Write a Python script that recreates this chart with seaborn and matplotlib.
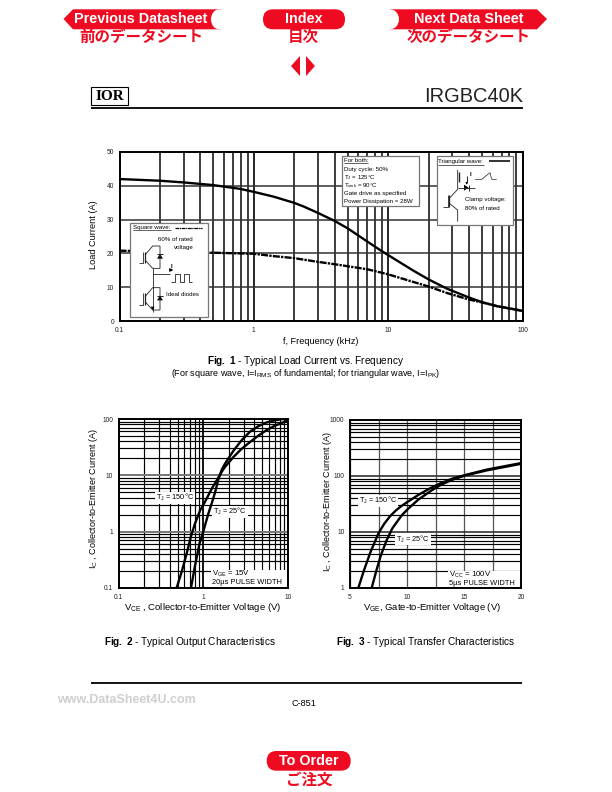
import numpy as np
import matplotlib
matplotlib.use("Agg")
import matplotlib.pyplot as plt
import seaborn as sns
from matplotlib.patches import Polygon, Ellipse, FancyBboxPatch, Rectangle

sns.set_theme(style="white")
plt.rcParams["font.family"] = ["Liberation Sans", "Noto Sans CJK JP"]
plt.rcParams["mathtext.fontset"] = "custom"
plt.rcParams["mathtext.rm"] = "Liberation Sans"
plt.rcParams["mathtext.it"] = "Liberation Sans:italic"
plt.rcParams["mathtext.bf"] = "Liberation Sans:bold"

RED = "#ee0a20"
W, H = 612, 792

# ======================================================
# DATA
# ======================================================
freq_tri = [0.1, 0.2, 0.3, 0.5, 0.79, 1, 1.4, 1.98, 2.34, 3.03, 4, 5, 7, 8.7, 10, 15.4, 20, 27.3, 39.6, 49.8, 64.5, 100]
load_tri = [42, 41.5, 41, 40.2, 39.1, 38.2, 36.8, 35, 33.9, 31.9, 29.6, 27.4, 23.5, 21, 19.5, 14.9, 12.3, 9.6, 7, 5.6, 4.4, 3]
freq_sq = [0.1, 0.2, 0.5, 1, 1.4, 2, 3, 4, 5, 7, 8.7, 10, 20, 27.3, 39.6, 49.8, 64.5, 100]
load_sq = [20.8, 20.6, 20.2, 19.9, 19.2, 18.6, 17.5, 16.8, 16.2, 15.3, 14.4, 13.8, 10.2, 8.3, 6.4, 5.5, 4.4, 3]

vce_150 = [0.485, 0.56, 0.64, 0.72, 0.8, 0.92, 1.05, 1.18, 1.3, 1.5, 1.65, 1.8, 2.26, 2.8, 3.56, 4.5, 5.6, 7, 9.6, 10]
ic_150 = [0.1, 0.2, 0.42, 0.85, 1.4, 2.4, 3.4, 4.8, 6.3, 9, 11.5, 14, 21, 29, 39, 51, 63.6, 76, 92, 94]
vce_25 = [0.716, 0.8, 0.9, 1, 1.05, 1.15, 1.26, 1.38, 1.5, 1.65, 1.8, 2.26, 2.8, 3.56, 4.5, 5.6, 7, 8.8, 10]
ic_25 = [0.1, 0.25, 0.6, 1, 1.3, 2.1, 3.2, 5, 8.2, 12.5, 16, 27, 41, 59.6, 75, 87, 95, 100, 100]

vge_150 = [5.73, 6.2, 6.8, 7.5, 8, 8.5, 9, 9.5, 10.1, 11, 12, 13, 14, 15.1, 17, 20]
icg_150 = [1, 2, 4.4, 9.5, 14, 19, 24, 29, 35, 46, 60, 75, 90, 104, 130, 170]
vge_25 = [6.9, 7.3, 7.7, 8.2, 8.7, 9.2, 9.6, 10.1, 11, 12.2, 13, 14, 15.1, 17, 20]
icg_25 = [1, 2, 3.8, 7, 11.5, 16, 20.5, 26, 38, 56, 70, 86, 102, 126, 165]

ticks_x1 = [0.1, 1, 10, 100]
labels_x1 = ["0.1", "1", "10", "100"]
ticks_y1 = [0, 10, 20, 30, 40, 50]
ticks_x2 = [0.1, 1, 10]
labels_x2 = ["0.1", "1", "10"]
ticks_y2 = [0.1, 1, 10, 100]
labels_y2 = ["0.1", "1", "10", "100"]
ticks_x3 = [5, 10, 15, 20]
grid_x3 = [7.5, 10, 12.5, 15, 17.5]
ticks_y3 = [1, 10, 100, 1000]
labels_y3 = ["1", "10", "100", "1000"]


def make_axes(left, top, right, bottom):
    return fig.add_axes([left / W, 1 - bottom / H, (right - left) / W, (bottom - top) / H])


def dress(ax, xticks, xlabels, yticks, ylabels):
    ax.set_xticks(xticks, labels=xlabels)
    ax.set_yticks(yticks, labels=ylabels)
    ax.tick_params(axis="both", which="major", length=0, pad=4, labelsize=4.8, colors="#222222")
    ax.tick_params(axis="both", which="minor", length=0, labelbottom=False, labelleft=False)
    ax.set_xlabel("")
    ax.set_ylabel("")
    for s in ax.spines.values():
        s.set_visible(True)
        s.set_color("black")
        s.set_linewidth(1.4)


fig = plt.figure(figsize=(W / 100, H / 100), dpi=100, facecolor="white")

# ======================================================
# FIG 1 - LOAD CURRENT VS FREQUENCY
# ======================================================
ax1 = make_axes(119.5, 152, 522.5, 321)
ax1.set_xscale("log")
ax1.set_xlim(0.1, 100)
ax1.set_ylim(0, 50)
sns.lineplot(x=freq_tri, y=load_tri, ax=ax1, color="black", lw=1.7, errorbar=None)
sns.lineplot(x=freq_sq, y=load_sq, ax=ax1, color="black", lw=1.7, errorbar=None,
             linestyle=(0, (3, 0.5, 1, 0.5)))
dress(ax1, ticks_x1, labels_x1, ticks_y1, [str(v) for v in ticks_y1])
ax1.xaxis.set_minor_locator(matplotlib.ticker.LogLocator(10, subs=range(2, 10)))
ax1.grid(True, which="major", axis="x", color="black", lw=1.2)
ax1.grid(True, which="major", axis="y", color="#333333", lw=1.1)
ax1.grid(True, which="minor", axis="x", color="#111111", lw=1.15)
ax1.set_axisbelow(True)

# ======================================================
# FIG 2 - OUTPUT CHARACTERISTICS
# ======================================================
ax2 = make_axes(118.5, 419, 288, 588)
ax2.set_xscale("log")
ax2.set_yscale("log")
ax2.set_xlim(0.1, 10)
ax2.set_ylim(0.1, 100)
sns.lineplot(x=vce_150, y=ic_150, ax=ax2, color="black", lw=1.7, errorbar=None, sort=False)
sns.lineplot(x=vce_25, y=ic_25, ax=ax2, color="black", lw=1.7, errorbar=None, sort=False)
dress(ax2, ticks_x2, labels_x2, ticks_y2, labels_y2)
ax2.xaxis.set_minor_locator(matplotlib.ticker.LogLocator(10, subs=range(2, 10)))
ax2.yaxis.set_minor_locator(matplotlib.ticker.LogLocator(10, subs=range(2, 10), numticks=10))
ax2.grid(True, which="major", axis="y", color="#777777", lw=1.4)
ax2.grid(True, which="major", axis="x", color="black", lw=1.3)
ax2.grid(True, which="minor", axis="both", color="black", lw=0.85)
ax2.set_axisbelow(True)

# ======================================================
# FIG 3 - TRANSFER CHARACTERISTICS
# ======================================================
ax3 = make_axes(350, 420, 521, 588)
ax3.set_yscale("log")
ax3.set_xlim(5, 20)
ax3.set_ylim(1, 1000)
sns.lineplot(x=vge_150, y=icg_150, ax=ax3, color="black", lw=1.7, errorbar=None, sort=False)
sns.lineplot(x=vge_25, y=icg_25, ax=ax3, color="black", lw=1.7, errorbar=None, sort=False)
dress(ax3, ticks_x3, [str(v) for v in ticks_x3], ticks_y3, labels_y3)
ax3.yaxis.set_minor_locator(matplotlib.ticker.LogLocator(10, subs=range(2, 10), numticks=10))
ax3.set_xticks(grid_x3, minor=True)
ax3.grid(True, which="major", axis="y", color="#333333", lw=1.2)
ax3.grid(True, which="minor", axis="y", color="black", lw=0.85)
ax3.grid(True, which="both", axis="x", color="#555555", lw=0.9)
ax3.set_axisbelow(True)

# ======================================================
# PAGE OVERLAY, PIXEL COORDINATES
# ======================================================
pg = fig.add_axes([0, 0, 1, 1], zorder=10)
pg.set_xlim(0, W)
pg.set_ylim(H, 0)
pg.axis("off")
pg.patch.set_alpha(0)


def txt(x, y, s, size=7, ha="center", color="black", **kw):
    kw.setdefault("va", "center")
    return pg.text(x, y, s, fontsize=size, ha=ha, color=color, **kw)


def path(pts, lw=0.6, color="#222222"):
    pg.plot([p[0] for p in pts], [p[1] for p in pts], color=color, lw=lw, solid_capstyle="butt")


def pill(x0, y0, x1, y1):
    r = (y1 - y0) / 2
    pg.add_patch(FancyBboxPatch((x0 + r, y0 + r), x1 - x0 - 2 * r, 0.001,
                                boxstyle=f"round,pad={r},rounding_size={r}", fc=RED, ec="none"))


# header buttons
pg.add_patch(Polygon([(63.5, 19), (73, 9.3), (221, 9.3), (221, 29.3), (73, 29.3)], fc=RED, ec="none"))
pg.add_patch(Ellipse((219, 19.3), 16, 20, fc="white", ec="none"))
pill(263, 9.3, 345, 29.3)
pg.add_patch(Polygon([(547, 19), (537, 9.3), (390, 9.3), (390, 29.3), (537, 29.3)], fc=RED, ec="none"))
pg.add_patch(Ellipse((390, 19.3), 18, 20, fc="white", ec="none"))
txt(141, 19, "Previous Datasheet", 10.4, color="white", fontweight="bold")
txt(303.5, 19, "Index", 10.4, color="white", fontweight="bold")
txt(469, 19, "Next Data Sheet", 10.4, color="white", fontweight="bold")
jp = dict(family=["Noto Sans CJK JP"], fontweight="bold", color=RED)
txt(141, 37, "前のデータシート", 11.2, **jp)
txt(303.5, 37, "目次", 11.2, **jp)
txt(469, 37, "次のデータシート", 11.2, **jp)
pg.add_patch(Polygon([(291, 66), (300, 56), (300, 76)], fc=RED, ec="none"))
pg.add_patch(Polygon([(315, 66), (306, 56), (306, 76)], fc=RED, ec="none"))

# logo, title, rules
pg.add_patch(Rectangle((91, 86.7), 37.3, 18.3, fc="white", ec="black", lw=0.8))
txt(109.7, 96, "IOR", 11, family=["Liberation Serif"], fontweight="bold")
txt(523, 96, "IRGBC40K", 14.4, ha="right", color="#222222")
path([(91, 108), (523, 108)], lw=1.3, color="black")
path([(91, 682.7), (522, 682.7)], lw=1.3, color="black")
txt(57, 700, "www.DataSheet4U.com", 9, ha="left", color="#cfcfcf", fontweight="bold")
txt(303.5, 704, "C-851", 6.6)
pill(266.7, 751, 350.7, 770.7)
txt(308.7, 761, "To Order", 10.4, color="white", fontweight="bold")
txt(309, 780, "ご注文", 11.2, **jp)

# axis titles
txt(321, 341, "f, Frequency (kHz)", 6.6)
txt(93, 235, "Load Current (A)", 6.6, rotation=90)
txt(203, 607, r"V$_{\mathrm{CE}}$ , Collector-to-Emitter Voltage (V)", 6.8)
txt(93, 499, r"I$_{\mathrm{C}}$ , Collector-to-Emitter Current (A)", 6.5, rotation=90)
txt(432, 608, r"V$_{\mathrm{GE}}$, Gate-to-Emitter Voltage (V)", 6.8)
txt(327, 502, r"I$_{\mathrm{C}}$ , Collector-to-Emitter Current (A)", 6.5, rotation=90)

# captions
txt(306, 361, r"$\mathbf{Fig{.}\ 1}$ - Typical Load Current vs. Frequency", 7.2)
txt(306, 373, r"(For square wave, I=I$_{\mathrm{RMS}}$ of fundamental; for triangular wave, I=I$_{\mathrm{PK}}$)", 6.5)
txt(190, 642, r"$\mathbf{Fig{.}\ 2}$ - Typical Output Characteristics", 7.2)
txt(425, 642, r"$\mathbf{Fig{.}\ 3}$ - Typical Transfer Characteristics", 7.2)

# curve labels
white = dict(fc="white", ec="none", pad=0.4)
txt(175, 497.7, "T$_{\\mathrm{J}}$ = 150°C", 5.3, bbox=white)
txt(230, 511.7, "T$_{\\mathrm{J}}$ = 25°C", 5.3, bbox=white)
txt(378, 500.7, "T$_{\\mathrm{J}}$ = 150°C", 5.3, bbox=white)
txt(413, 539, "T$_{\\mathrm{J}}$ = 25°C", 5.3, bbox=white)
pg.add_patch(Rectangle((211, 570), 76, 17.3, fc="white", ec="none"))
txt(212, 573.5, "V$_{\\mathrm{GE}}$ = 15V", 5.6, ha="left")
txt(212, 583, "20µs PULSE WIDTH", 5.4, ha="left")
pg.add_patch(Rectangle((448, 571), 72, 16.3, fc="white", ec="none"))
txt(449, 574.5, "V$_{\\mathrm{CC}}$ = 100V", 5.6, ha="left")
txt(449, 583.5, "5µs PULSE WIDTH", 5.4, ha="left")


# ======================================================
# INSET BOXES ON FIG 1
# ======================================================
def box(x0, y0, x1, y1):
    pg.add_patch(Rectangle((x0, y0), x1 - x0, y1 - y0, fc="white", ec="#777777", lw=0.9))


small = 4.4
box(130.3, 222.7, 207.7, 316.7)
txt(133, 227, "Square wave:", small, ha="left")
path([(133, 230.3), (171, 230.3)], lw=0.5)
pg.plot([175, 202], [227.5, 227.5], color="black", lw=0.9, linestyle=(0, (3, 0.5, 1, 0.5)))
txt(175, 239.5, "60% of rated", small)
txt(184, 247.5, "voltage", small)
txt(182, 294, "Ideal diodes", small)


def sq_igbt(dy):
    # one switch of the half bridge, drawn at its vertical offset
    pts = lambda *a: [(85 + x / 3, 140 + (y + dy) / 3) for x, y in a]
    path(pts((163, 370), (175, 370), (175, 335)))
    path(pts((180, 335), (180, 370)), lw=0.9)
    path(pts((180, 345), (203, 318), (225, 318), (225, 385), (203, 385), (180, 360)))
    pg.add_patch(Polygon(pts((216, 356), (234, 356), (225, 342)), fc="black", ec="none"))
    path(pts((216, 342), (234, 342)), lw=0.7)


sq_igbt(0)
sq_igbt(125)
path([(152.7, 268), (152.7, 312)])
pg.annotate("", xy=(152.7, 313), xytext=(152.7, 306), arrowprops=dict(arrowstyle="-|>,head_width=0.08,head_length=0.15", lw=0.5, color="black"))
path([(152.7, 274.3), (170, 274.3)])
pg.annotate("", xy=(176, 270), xytext=(167, 270), arrowprops=dict(arrowstyle="-|>,head_width=0.08,head_length=0.15", lw=0.7, color="black"))
txt(171, 266.5, "I", small, fontweight="bold")
path([(171, 281.7), (175, 281.7), (175, 274.3), (180, 274.3), (180, 281.7), (184, 281.7),
      (184, 274.3), (189, 274.3), (189, 281.7), (192.3, 281.7)])

box(342.3, 155.7, 419.3, 206.3)
txt(343.5, 160, "For both:", small, ha="left")
path([(343.5, 163.3), (368, 163.3)], lw=0.5)
txt(343.5, 169, "Duty cycle: 50%", small, ha="left")
txt(343.5, 177.3, "T$_{\\mathrm{J}}$ = 125°C", small, ha="left")
txt(343.5, 185.5, "T$_{\\mathrm{sink}}$ = 90°C", small, ha="left")
txt(343.5, 193.3, "Gate drive as specified", small, ha="left")
txt(343.5, 201.3, "Power Dissipation = 28W", small, ha="left")

box(436.7, 155.7, 513.3, 225.3)
txt(438.3, 161, "Triangular wave:", small, ha="left")
path([(438.3, 164.5), (484, 164.5)], lw=0.5)
path([(489, 161.3), (510, 161.3)], lw=1.3)
tr = lambda *a: [(310 + x / 3, 140 + y / 3) for x, y in a]
path(tr((443, 90), (443, 148), (418, 175)))
path(tr((447, 95), (447, 125)), lw=1.0)
path(tr((443, 143), (495, 143)))
pg.add_patch(Polygon(tr((462, 134), (462, 152), (476, 143)), fc="black", ec="none"))
path(tr((477, 134), (477, 152)), lw=0.7)
path(tr((418, 165), (418, 200)), lw=0.9)
path(tr((400, 200), (413, 200), (413, 165)))
path(tr((418, 190), (443, 210), (443, 245)))
path(tr((470, 108), (470, 128)), lw=0.7)
pg.add_patch(Polygon(tr((466, 126), (474, 126), (470, 134)), fc="black", ec="none"))
txt(470, 174.5, "I", small, fontweight="bold")
path(tr((495, 118), (515, 118), (540, 98), (545, 118), (560, 118)), lw=0.5)
txt(465, 200, "Clamp voltage:", small, ha="left")
txt(465, 208, "80% of rated", small, ha="left")

fig.savefig("out.png", dpi=100)
